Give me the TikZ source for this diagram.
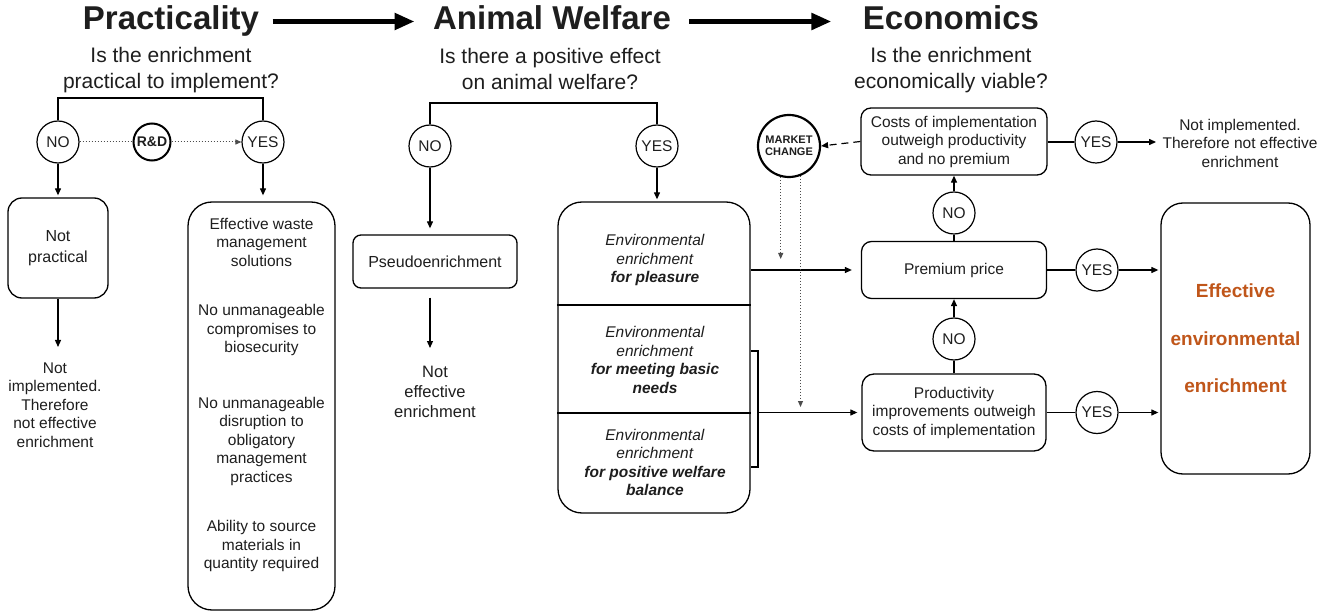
\documentclass[tikz,border=0pt]{standalone}
\usepackage{fontspec}
\setmainfont{Liberation Sans}
\usetikzlibrary{arrows.meta}
\definecolor{effc}{HTML}{C0561A}
\definecolor{txt}{HTML}{1E1E1E}
\begin{document}
\begin{tikzpicture}[x=1pt,y=-1pt,
  every node/.style={text=txt},
  body/.style={font=\fontsize{15.5}{18.5}\selectfont, align=center},
  box/.style={draw, line width=1.3pt, rounded corners=10pt, inner sep=0pt, align=center},
  circ/.style={draw, circle, line width=1.2pt, minimum size=42pt, inner sep=0pt, font=\fontsize{15.5}{18}\selectfont},
  arr/.style={line width=1.2pt, -{Triangle[length=7pt,width=6pt]}},
  ln/.style={line width=1.2pt},
  title/.style={font=\fontsize{33}{38}\selectfont\bfseries, anchor=base, text height=24pt, text depth=7pt},
  sub/.style={font=\fontsize{21}{26}\selectfont, align=center},
  bigarr/.style={line width=5pt, -{Triangle[length=20pt,width=16pt]}},
  dotln/.style={line width=1pt, dotted, draw=black!70},
  dotarr/.style={dotln, -{Triangle[length=6pt,width=5pt]}},
  dasharr/.style={line width=1.2pt, dash pattern=on 7pt off 5pt, -{Triangle[length=7pt,width=6pt]}},
]
\fill[white] (0,0) rectangle (1328,612);
\useasboundingbox (0,0) rectangle (1328,612);

% titles
\node[title] (tp) at (171,30) {Practicality};
\node[title] (ta) at (552,30) {Animal Welfare};
\node[title] (te) at (951,30) {Economics};
\draw[bigarr, shorten <=10pt, shorten >=15pt] (tp.east) -- (ta.west);
\draw[bigarr, shorten <=15pt, shorten >=28pt] (ta.east) -- (te.west);

\node[sub] (sp) at (171,70.5) {Is the enrichment\\practical to implement?};
\node[sub] (sa) at (550,68.5) {Is there a positive effect\\on animal welfare?};
\node[sub] (se) at (951,70.5) {Is the enrichment\\economically viable?};

% practicality
\node[circ] (no1) at (58,142) {NO};
\node[circ, line width=2pt, minimum size=37pt, font=\fontsize{14}{16}\selectfont\bfseries] (rd) at (152,142) {R\&D};
\node[circ] (yes1) at (263,142) {YES};
\coordinate (b1) at (160,98);
\draw[ln] (no1.north) |- (b1) -| (yes1.north);
\draw[dotln] (no1.east) -- (rd.west);
\draw[dotarr] (rd.east) -- (yes1.west);

\node[box, rounded corners=14pt, minimum width=100pt, minimum height=100pt, font=\fontsize{16}{21}\selectfont] (np) at (58,248) {Not\\practical};
\draw[arr, shorten >=2pt] (no1.south) -- (np.north);
\coordinate (npend) at (58,347);
\draw[arr] (np.south) -- (npend);
\node[body] (npt) at (55,405) {Not\\implemented.\\Therefore\\not effective\\enrichment};

\node[box, rounded corners=24pt, minimum width=147pt, minimum height=408pt] (pbox) at (261.5,406) {};
\draw[arr, shorten >=6pt] (yes1.south) -- (yes1.south |- pbox.north);
\node[body] (ptxt) at (261.5,395) {Effective waste\\management\\solutions\\[31pt]No unmanageable\\compromises to\\biosecurity\\[37pt]No unmanageable\\disruption to\\obligatory\\management\\practices\\[31pt]Ability to source\\materials in\\quantity required};

% animal welfare
\node[circ] (no2) at (430,146) {NO};
\node[circ] (yes2) at (657,146) {YES};
\coordinate (b2) at (540,103);
\draw[ln] (no2.north) |- (b2) -| (yes2.north);
\node[box, rounded corners=8pt, minimum width=164pt, minimum height=53pt, font=\fontsize{16}{19}\selectfont] (ps) at (435,261.5) {Pseudoenrichment};
\draw[arr, shorten >=6pt] (no2.south) -- (no2.south |- ps.north);
\coordinate (psend) at (430,348);
\draw[arr, shorten <=9pt] (ps.south -| no2) -- (psend);
\node[font=\fontsize{16.5}{20}\selectfont, align=center] (pst) at (435,392) {Not\\effective\\enrichment};

\node[box, rounded corners=24pt, minimum width=192pt, minimum height=311pt] (ee) at (654,357.5) {};
\draw[arr, shorten >=2pt] (yes2.south) -- (yes2.south |- ee.north);
\coordinate (dv1) at (654,305);
\coordinate (dv2) at (654,413);
\draw[ln] (ee.west |- dv1) -- (ee.east |- dv1);
\draw[ln] (ee.west |- dv2) -- (ee.east |- dv2);
\node[body] (ee1) at (655,260) {\textit{Environmental}\\\textit{enrichment}\\\textbf{\textit{for pleasure}}};
\node[body] (ee2) at (655,360) {\textit{Environmental}\\\textit{enrichment}\\\textbf{\textit{for meeting basic}}\\\textbf{\textit{needs}}};
\node[body] (ee3) at (655,462.5) {\textit{Environmental}\\\textit{enrichment}\\\textbf{\textit{for positive welfare}}\\\textbf{\textit{balance}}};
\coordinate (br1) at (758,351);
\coordinate (br2) at (758,467);
\draw[ln] (ee.east |- br1) -- (br1) -- (br2) -- (ee.east |- br2);

% economics
\node[circ, line width=2.2pt, minimum size=62pt, align=center, font=\fontsize{11}{12.5}\selectfont\bfseries] (mc) at (789,146) {MARKET\\CHANGE};
\node[box, minimum width=186pt, minimum height=67pt, body] (costs) at (954,141.5) {Costs of implementation\\outweigh productivity\\and no premium};
\node[box, minimum width=185pt, minimum height=57pt, body] (prem) at (954,270) {Premium price};
\node[box, rounded corners=12pt, minimum width=184pt, minimum height=77pt, body] (prod) at (954,412.5) {Productivity\\improvements outweigh\\costs of implementation};
\node[circ] (noA) at (954,213) {NO};
\node[circ] (noB) at (954,339) {NO};
\node[circ] (yesA) at (1096,142) {YES};
\node[circ] (yesB) at (1097,270) {YES};
\node[circ] (yesC) at (1097,412.5) {YES};
\node[body] (ni) at (1240,143) {Not implemented.\\Therefore not effective\\enrichment};
\node[box, rounded corners=22pt, minimum width=149pt, minimum height=271pt, font=\fontsize{19}{47.5}\selectfont\bfseries, text=effc] (eff) at (1235.5,338.5) {Effective\\environmental\\enrichment};

\draw[arr, shorten >=9pt] (ee.east |- prem.west) -- (prem.west);
\draw[arr, shorten >=4pt] (br1 |- prod.west) -- (prod.west);
\draw[dasharr] (costs.west) -- (mc.east);
\coordinate (d1) at (781,259);
\coordinate (d2) at (800,407);
\draw[dotarr] (mc.255) -- (mc.255 |- d1);
\draw[dotarr] (mc.291) -- (mc.291 |- d2);
\draw[ln] (prem.north) -- (noA.south);
\draw[arr] (noA.north) -- (costs.south);
\draw[ln] (prod.north) -- (noB.south);
\draw[arr] (noB.north) -- (prem.south);
\draw[ln] (costs.east |- yesA) -- (yesA.west);
\draw[arr, shorten >=3pt] (yesA.east) -- (yesA.east -| ni.west);
\draw[ln] (prem.east) -- (yesB.west);
\draw[arr, shorten >=2pt] (yesB.east) -- (yesB.east -| eff.west);
\draw[ln] (prod.east) -- (yesC.west);
\draw[arr, shorten >=2pt] (yesC.east) -- (yesC.east -| eff.west);
\end{tikzpicture}
\end{document}
